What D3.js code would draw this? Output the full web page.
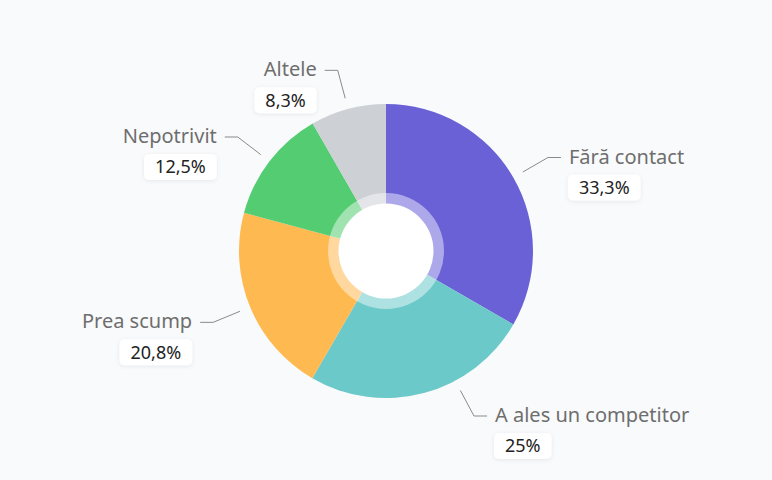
<!DOCTYPE html>
<html><head><meta charset="utf-8">
<script src="https://cdn.jsdelivr.net/npm/d3@7"></script>
<style>
html,body{margin:0;padding:0;background:#f9fafb;}
svg{display:block;font-family:"Noto Sans","Open Sans",sans-serif;}
</style></head>
<body>
<svg id="chart" width="772" height="480"></svg>
<script>
const categories = ["Fără contact","A ales un competitor","Prea scump","Nepotrivit","Altele"];
const values = [33.3, 25, 20.8, 12.5, 8.3];
const colors = ["#6b61d7","#6cc9c9","#ffb951","#53cc72","#cdd0d5"];

const W = 772, H = 480;
const cx = 386, cy = 251, R = 147, rInner = 47.5, rRing = 58;

const svg = d3.select("#chart");
svg.append("rect").attr("width", W).attr("height", H).attr("fill", "#f9fafb");

const defs = svg.append("defs");
const f = defs.append("filter").attr("id","sh").attr("x","-30%").attr("y","-40%").attr("width","160%").attr("height","180%");
f.append("feDropShadow").attr("dx",0).attr("dy",1).attr("stdDeviation",2).attr("flood-color","#000").attr("flood-opacity",0.08);

const data = categories.map((c,i)=>({name:c, value:values[i], color:colors[i]}));
const pie = d3.pie().sort(null).value(d=>d.value);
const arcs = pie(data);
const arc = d3.arc().innerRadius(0).outerRadius(R);

const g = svg.append("g").attr("transform",`translate(${cx},${cy})`);
g.selectAll("path.slice").data(arcs).enter().append("path")
  .attr("class","slice").attr("d",arc).attr("fill",d=>d.data.color);

g.append("circle").attr("r", rRing).attr("fill","#fff").attr("opacity",0.45);
g.append("circle").attr("r", rInner).attr("fill","#fff");

const fmt = v => (Number.isInteger(v) ? String(v) : v.toFixed(1).replace(".", ",")) + "%";

const maxElbowY = H - 64 - cy;
const labels = svg.append("g");
arcs.forEach(a=>{
  let ang = (a.startAngle + a.endAngle)/2;
  const rEl = R + 40, rSt = R + 11;
  // keep label inside the frame
  if (-Math.cos(ang)*rEl > maxElbowY) {
    const c = -maxElbowY/rEl;
    ang = Math.sin(ang) >= 0 ? Math.acos(c) : 2*Math.PI - Math.acos(c);
  }
  const right = Math.sin(ang) >= 0;
  const sx = cx + Math.sin(ang)*rSt, sy = cy - Math.cos(ang)*rSt;
  const ex = cx + Math.sin(ang)*rEl, ey = cy - Math.cos(ang)*rEl;
  const hx = ex + (right ? 13 : -13);
  labels.append("polyline")
    .attr("points", `${sx},${sy} ${ex},${ey} ${hx},${ey}`)
    .attr("fill","none").attr("stroke","#8a8a8a").attr("stroke-width",1);
  const tx = hx + (right ? 8 : -8);
  labels.append("text").attr("x",tx).attr("y",ey)
    .attr("dy","0.3em")
    .attr("text-anchor", right ? "start" : "end")
    .attr("font-size",20).attr("fill","#6e6e6e").text(a.data.name);
  // value box
  const bg = labels.append("g");
  const rect = bg.append("rect").attr("rx",5).attr("fill","#fff").attr("filter","url(#sh)");
  const vt = bg.append("text").attr("font-size",18).attr("fill","#222")
    .attr("text-anchor","middle").text(fmt(a.data.value));
  const w = vt.node().getComputedTextLength() + 22;
  const bh = 26, by = ey + 17;
  const bx = right ? tx - 1 : tx - w;
  rect.attr("x",bx).attr("y",by).attr("width",w).attr("height",bh);
  vt.attr("x", bx + w/2).attr("y", by + bh/2).attr("dy","0.35em");
});
</script>
</body></html>
